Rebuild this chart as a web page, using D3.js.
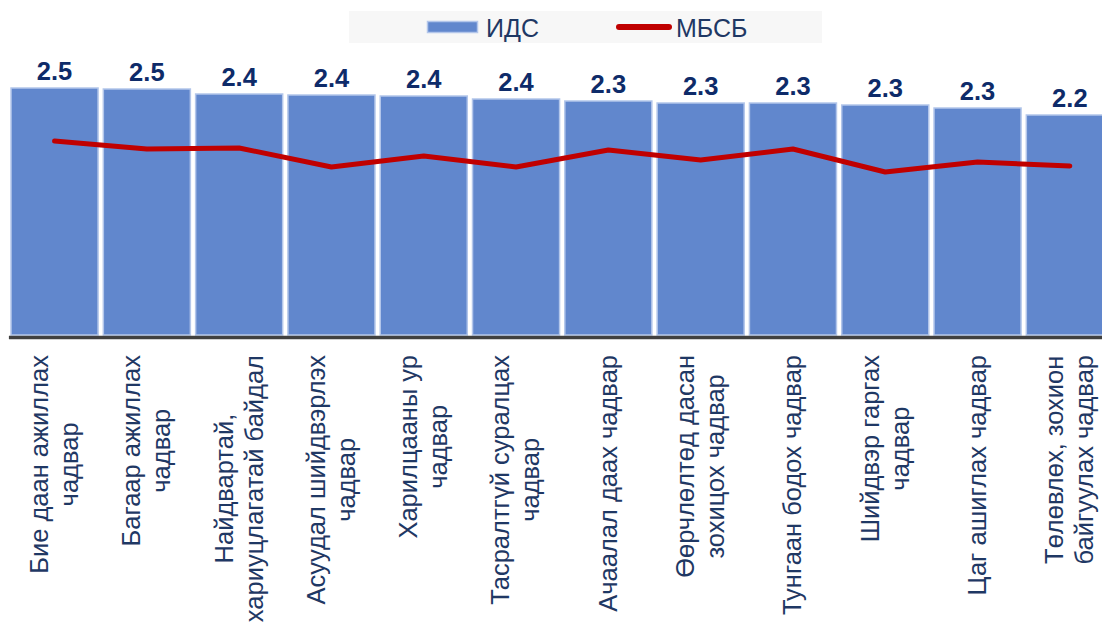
<!DOCTYPE html>
<html><head><meta charset="utf-8">
<script src="https://cdn.jsdelivr.net/npm/d3@7"></script>
<style>body{margin:0;background:#fff;overflow:hidden}</style>
</head><body>
<svg id="chart" width="1102" height="633"></svg>
<script>
const categories = [
  "Бие даан ажиллах\nчадвар",
  "Багаар ажиллах\nчадвар",
  "Найдвартай,\nхариуцлагатай байдал",
  "Асуудал шийдвэрлэх\nчадвар",
  "Харилцааны ур\nчадвар",
  "Тасралтгүй суралцах\nчадвар",
  "Ачаалал даах чадвар",
  "Өөрчлөлтөд дасан\nзохицох чадвар",
  "Тунгаан бодох чадвар",
  "Шийдвэр гаргах\nчадвар",
  "Цаг ашиглах чадвар",
  "Төлөвлөх, зохион\nбайгуулах чадвар"
];
const idsValues  = [2.47, 2.46, 2.41, 2.40, 2.39, 2.36, 2.34, 2.32, 2.32, 2.30, 2.27, 2.20];
const mbsbValues = [1.94, 1.86, 1.87, 1.68, 1.79, 1.68, 1.85, 1.75, 1.86, 1.63, 1.73, 1.69];
const seriesNames = ["ИДС", "МБСБ"];

const barFill = "#6187cd", barStroke = "#b3c6ea", lineColor = "#c00000";
const font = "'Liberation Sans', Arial, sans-serif";

const svg = d3.select("#chart");

const x = d3.scaleBand().domain(d3.range(categories.length))
  .range([8.4, 1116]).paddingInner(0.057).paddingOuter(0.0285);
const y = d3.scaleLinear().domain([0, 3]).range([335, 35]);
const bw = x.bandwidth();
const cx = i => x(i) + bw / 2;

// legend
const lg = svg.append("g");
lg.append("rect").attr("x", 349).attr("y", 11).attr("width", 473).attr("height", 32).attr("fill", "#f7f7f7");
lg.append("rect").attr("x", 427.5).attr("y", 21.5).attr("width", 50).attr("height", 11)
  .attr("fill", barFill).attr("stroke", barStroke).attr("stroke-width", 1.5);
lg.append("text").attr("x", 486).attr("y", 37).text(seriesNames[0])
  .attr("font-family", font).attr("font-size", 25).attr("fill", "#1f3864");
lg.append("line").attr("x1", 619).attr("x2", 669).attr("y1", 27).attr("y2", 27)
  .attr("stroke", lineColor).attr("stroke-width", 6).attr("stroke-linecap", "round");
lg.append("text").attr("x", 676).attr("y", 37).text(seriesNames[1])
  .attr("font-family", font).attr("font-size", 25).attr("fill", "#1f3864");

// bars
svg.append("g").selectAll("rect").data(idsValues).join("rect")
  .attr("x", (d, i) => x(i)).attr("y", d => y(d))
  .attr("width", bw).attr("height", d => y(0) - y(d))
  .attr("fill", barFill).attr("stroke", barStroke).attr("stroke-width", 1.5);

// axis
const axis = svg.append("g").attr("transform", `translate(0,${y(0) + 2})`)
  .call(d3.axisBottom(x).tickSize(0).tickSizeOuter(0).tickFormat(""));
axis.select(".domain").attr("stroke", "#404040").attr("stroke-width", 3.5);

// line
svg.append("path").datum(mbsbValues)
  .attr("d", d3.line().x((d, i) => cx(i)).y(d => y(d)))
  .attr("fill", "none").attr("stroke", lineColor).attr("stroke-width", 5)
  .attr("stroke-linejoin", "round").attr("stroke-linecap", "round");

// value labels
const fmt = d3.format(".1f");
svg.append("g").selectAll("text").data(idsValues).join("text")
  .attr("x", (d, i) => cx(i)).attr("y", d => y(d) - 8)
  .attr("text-anchor", "middle").attr("font-family", font).attr("font-weight", "bold")
  .attr("font-size", 25.5).attr("fill", "#0e2b69").text(d => fmt(d));

// category labels
const fs = 25.5, lh = 30;
const cg = svg.append("g");
categories.forEach((c, i) => {
  const lines = c.split("\n");
  const g = cg.append("g").attr("transform", `translate(${cx(i)},355) rotate(-90)`);
  const texts = lines.map((ln, j) => g.append("text")
    .attr("y", (j - (lines.length - 1) / 2) * lh + 0.33 * fs)
    .attr("text-anchor", "middle").attr("font-family", font).attr("font-size", fs)
    .attr("fill", "#1f3864").text(ln));
  const maxW = d3.max(texts, t => t.node().getComputedTextLength());
  texts.forEach(t => t.attr("x", -maxW / 2));
});
</script>
</body></html>
